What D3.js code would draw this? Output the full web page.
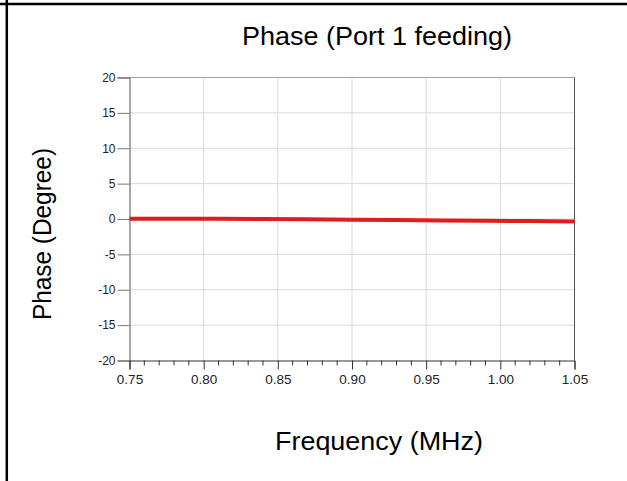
<!DOCTYPE html>
<html><head><meta charset="utf-8">
<script src="https://cdn.jsdelivr.net/npm/d3@7"></script>
<style>body{margin:0;background:#fff}svg{display:block}</style>
</head><body>
<script>
const freq = [0.75,0.78,0.81,0.84,0.87,0.90,0.93,0.96,0.99,1.02,1.05];
const phase = [0.05,0.04,0.02,0.0,-0.04,-0.09,-0.14,-0.20,-0.25,-0.30,-0.36];
const xTicks = [0.75,0.80,0.85,0.90,0.95,1.00,1.05];
const xTickLabels = ["0.75","0.80","0.85","0.90","0.95","1.00","1.05"];
const yTicks = [20,15,10,5,0,-5,-10,-15,-20];
const yTickLabels = ["20","15","10","5","0","-5","-10","-15","-20"];
const title = "Phase (Port 1 feeding)";
const xLabel = "Frequency (MHz)";
const yLabel = "Phase (Degree)";

const W=627,H=481;
const svg=d3.select("body").append("svg").attr("width",W).attr("height",H);
const L=129.5,R=574.5,T=77.5,B=360.5;
const x=d3.scaleLinear().domain([0.75,1.05]).range([L,R]);
const y=d3.scaleLinear().domain([-20,20]).range([B,T]);
const font="Arial, 'Liberation Sans', sans-serif";

// outer frame lines
svg.append("line").attr("x1",0).attr("x2",W).attr("y1",4).attr("y2",4).attr("stroke","#000").attr("stroke-width",2.5);
svg.append("line").attr("x1",6.8).attr("x2",6.8).attr("y1",0).attr("y2",H).attr("stroke","#000").attr("stroke-width",2.5);

// grid
svg.append("g").selectAll("line").data(xTicks.slice(1,-1)).join("line")
  .attr("x1",d=>x(d)).attr("x2",d=>x(d)).attr("y1",T).attr("y2",B).attr("stroke","#d9d9d9").attr("stroke-width",1);
svg.append("g").selectAll("line").data(yTicks.slice(1,-1)).join("line")
  .attr("x1",L).attr("x2",R).attr("y1",d=>y(d)).attr("y2",d=>y(d)).attr("stroke","#d9d9d9").attr("stroke-width",1);

// frame
svg.append("line").attr("x1",L).attr("x2",R).attr("y1",T).attr("y2",T).attr("stroke","#a0a0a0");
svg.append("line").attr("x1",R).attr("x2",R).attr("y1",T).attr("y2",B).attr("stroke","#555");

// y axis
const ya=d3.axisLeft(y).tickValues(yTicks).tickSize(12).tickPadding(2).tickFormat((d,i)=>yTickLabels[i]);
const gy=svg.append("g").attr("transform",`translate(${L},0)`).call(ya);
gy.select(".domain").attr("stroke","#8a8a8a").attr("stroke-width",1.5);
gy.selectAll(".tick line").attr("stroke","#777");
gy.selectAll("text").attr("font-family",font).attr("font-size",12).attr("fill","#222");

// x axis minor
const minor=d3.range(0,31).map(i=>0.75+i*0.01).filter((d,i)=>i%5!==0);
svg.append("g").selectAll("line").data(minor).join("line")
  .attr("x1",d=>x(d)).attr("x2",d=>x(d)).attr("y1",B).attr("y2",B+5).attr("stroke","#333");
const xa=d3.axisBottom(x).tickValues(xTicks).tickSize(9).tickPadding(5).tickFormat((d,i)=>xTickLabels[i]);
const gx=svg.append("g").attr("transform",`translate(0,${B})`).call(xa);
gx.select(".domain").attr("stroke","#333").attr("stroke-width",1);
gx.selectAll(".tick line").attr("stroke","#333");
gx.selectAll("text").attr("font-family",font).attr("font-size",13.5).attr("fill","#222");

// data line
svg.append("path").datum(freq.map((f,i)=>[f,phase[i]]))
  .attr("fill","none").attr("stroke","#e31b1d").attr("stroke-width",4)
  .attr("d",d3.line().x(d=>x(d[0])).y(d=>y(d[1])));

// titles
svg.append("text").attr("x",377).attr("y",45).attr("text-anchor","middle")
  .attr("font-family",font).attr("font-size",26).attr("fill","#000")
  .attr("textLength",270).attr("lengthAdjust","spacingAndGlyphs").text(title);
svg.append("text").attr("x",379).attr("y",450).attr("text-anchor","middle")
  .attr("font-family",font).attr("font-size",25).attr("fill","#000")
  .attr("textLength",208).attr("lengthAdjust","spacingAndGlyphs").text(xLabel);
svg.append("text").attr("transform","translate(51,234) rotate(-90)").attr("text-anchor","middle")
  .attr("font-family",font).attr("font-size",25).attr("fill","#000")
  .attr("textLength",172).attr("lengthAdjust","spacingAndGlyphs").text(yLabel);
</script>
</body></html>
